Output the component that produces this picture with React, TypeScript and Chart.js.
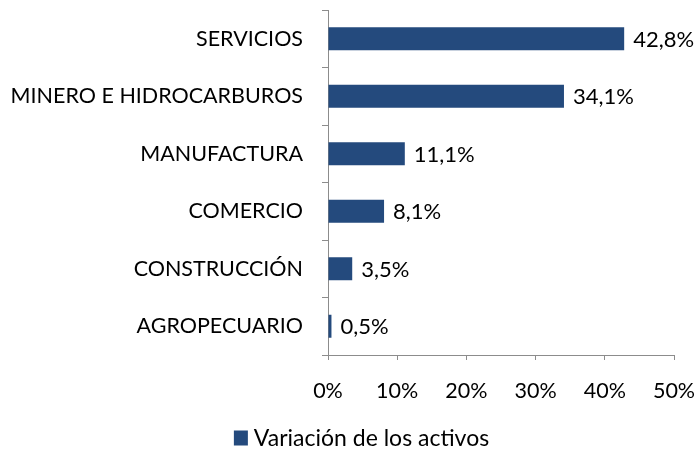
import React, { useEffect, useRef } from "react";
import { Chart, registerables } from "chart.js";

Chart.register(...registerables);

const categories = [
  "SERVICIOS",
  "MINERO E HIDROCARBUROS",
  "MANUFACTURA",
  "COMERCIO",
  "CONSTRUCCIÓN",
  "AGROPECUARIO",
];
const values = [42.8, 34.1, 11.1, 8.1, 3.5, 0.5];
const seriesLabel = "Variación de los activos";
const xMin = 0;
const xMax = 50;
const xStep = 10;

const FONT = "Lato, 'Open Sans', sans-serif";
const BAR_COLOR = "#244A7D";
const AXIS_COLOR = "#8C8C8C";

const fmt = (v: number) => v.toFixed(1).replace(".", ",") + "%";

const dataLabelPlugin = {
  id: "dataLabels",
  afterDatasetsDraw(chart: any) {
    const ctx = chart.ctx;
    const meta = chart.getDatasetMeta(0);
    ctx.save();
    ctx.font = `22px ${FONT}`;
    ctx.fillStyle = "#000";
    ctx.textAlign = "left";
    ctx.textBaseline = "middle";
    meta.data.forEach((el: any, i: number) => {
      const v = chart.data.datasets[0].data[i] as number;
      ctx.fillText(fmt(v), el.x + 9, el.y + 1);
    });
    ctx.restore();
  },
};

const legendPlugin = {
  id: "customLegend",
  afterDraw(chart: any) {
    const ctx = chart.ctx;
    const ds = chart.data.datasets[0];
    ctx.save();
    ctx.font = `23px ${FONT}`;
    const text = ds.label as string;
    const tw = ctx.measureText(text).width;
    const boxW = 14;
    const boxH = 15;
    const gap = 6;
    const total = boxW + gap + tw;
    const cx = chart.width / 2 + 12;
    const cy = chart.height - 11;
    const x0 = cx - total / 2;
    ctx.fillStyle = ds.backgroundColor;
    ctx.fillRect(x0, cy - boxH / 2, boxW, boxH);
    ctx.fillStyle = "#000";
    ctx.textAlign = "left";
    ctx.textBaseline = "middle";
    ctx.fillText(text, x0 + boxW + gap, cy + 1);
    ctx.restore();
  },
};

export default function App() {
  const ref = useRef<HTMLCanvasElement>(null);
  useEffect(() => {
    if (!ref.current) return;
    const chart = new Chart(ref.current, {
      type: "bar",
      data: {
        labels: categories,
        datasets: [
          {
            label: seriesLabel,
            data: values,
            backgroundColor: BAR_COLOR,
            borderWidth: 0,
            barPercentage: 0.4,
            categoryPercentage: 1,
          },
        ],
      },
      options: {
        indexAxis: "y",
        animation: false,
        responsive: false,
        maintainAspectRatio: false,
        layout: { padding: { left: 0, right: 25, top: 10, bottom: 0 } },
        plugins: {
          tooltip: { enabled: false },
          legend: { display: false },
        },
        scales: {
          y: {
            afterFit: (s: any) => {
              s.width = 328;
              s.paddingTop = 0;
              s.paddingBottom = 0;
            },
            grid: {
              display: true,
              drawOnChartArea: false,
              offset: true,
              tickLength: 6,
              color: AXIS_COLOR,
            },
            border: { display: true, color: AXIS_COLOR, width: 1 },
            ticks: {
              font: { family: FONT, size: 21.5 },
              color: "#000",
              padding: 19,
            },
          },
          x: {
            min: xMin,
            max: xMax,
            afterFit: (s: any) => {
              s.height = 94;
              s.paddingLeft = 0;
              s.paddingRight = 0;
            },
            grid: {
              display: true,
              drawOnChartArea: false,
              tickLength: 5,
              color: AXIS_COLOR,
            },
            border: { display: true, color: AXIS_COLOR, width: 1 },
            ticks: {
              stepSize: xStep,
              font: { family: FONT, size: 21.5 },
              color: "#000",
              padding: 18,
              maxRotation: 0,
              callback: (v: any) => `${v}%`,
            },
          },
        },
      },
      plugins: [dataLabelPlugin, legendPlugin],
    });
    return () => chart.destroy();
  }, []);
  return (
    <div style={{ position: "absolute", left: 0, top: 0, width: 699, height: 449, background: "#fff" }}>
      <canvas ref={ref} width={699} height={449} style={{ width: 699, height: 449 }} />
    </div>
  );
}
